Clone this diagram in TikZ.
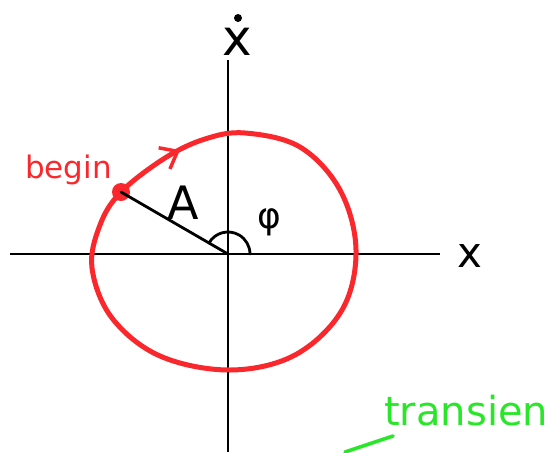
\documentclass[tikz,border=0pt]{standalone}
\usepackage{fontspec}
\usetikzlibrary{arrows.meta}
\newfontfamily\handfont{DejaVu Sans}
\definecolor{penred}{RGB}{250,40,45}
\definecolor{pengreen}{RGB}{40,230,40}
\tikzset{
  axisline/.style={line width=1.8pt, black},
  redpen/.style={line width=5pt, penred, line cap=round, line join=round},
  blackpen/.style={line width=2.8pt, black, line cap=round},
  lbl/.style={inner sep=0pt}
}
\begin{document}
\begin{tikzpicture}[x=1pt,y=-1pt]
\useasboundingbox (0,0) rectangle (545,452);
\clip (0,0) rectangle (545,452);
\fill[white] (0,0) rectangle (545,452);
% axes
\coordinate (O) at (228,254);
\coordinate (xl) at (10,254);
\coordinate (xr) at (440,254);
\coordinate (yt) at (228,60);
\coordinate (yb) at (228,452);
\draw[axisline] (xl) -- (xr);
\draw[axisline] (yt) -- (yb);
\node[lbl, font=\handfont\fontsize{42}{42}\selectfont] (xlab) at (470,256) {x};
\node[lbl, font=\handfont\fontsize{50}{50}\selectfont] (ydotlab) at (237,42) {x};
\fill (238,18) circle (4);
% trajectory
\coordinate (D) at (121,192);
\draw[redpen] plot[smooth cycle, tension=0.6] coordinates {
  (121,192) (165,158) (205,139) (245,133) (300,147) (340,190) (356,250)
  (342,310) (295,355) (230,370) (160,356) (112,318) (92,268) (100,225)};
\coordinate (tipA) at (165,158);
\coordinate (tipB) at (180,150);
\draw[penred, line width=3.5pt, -{Straight Barb[length=15pt,width=24pt,line width=3.5pt]}] (tipA) -- (tipB);
\fill[penred] (D) circle (9);
\node[lbl, anchor=base west, text=penred, font=\handfont\fontsize{31}{31}\selectfont] (begin) at (25,178) {begin};
% radius and angle
\draw[blackpen] (D) -- (O);
\node[lbl, font=\handfont\fontsize{46}{46}\selectfont] (A) at (183,203) {A};
\draw[blackpen] (O) ++(-150:22) arc (-150:0:22);
\node[lbl, font=\handfont\fontsize{36}{36}\selectfont] (phi) at (269,222) {φ};
% green text
\node[lbl, anchor=base west, text=pengreen, font=\handfont\fontsize{40}{40}\selectfont] (tr) at (384,425) {transient};
\coordinate (g1) at (345,452);
\coordinate (g2) at (393,436);
\draw[pengreen, line width=3.5pt, line cap=round] (g1) -- (g2);
\end{tikzpicture}
\end{document}
